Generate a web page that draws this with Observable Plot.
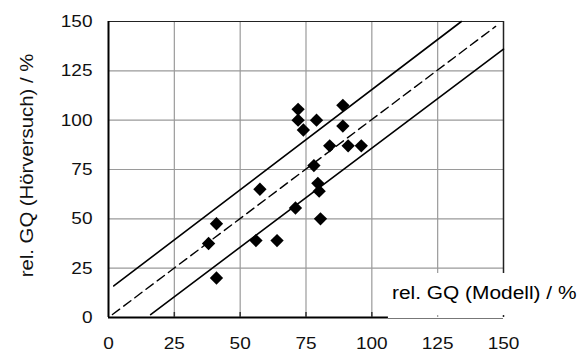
<!DOCTYPE html>
<html>
<head>
<meta charset="utf-8">
<script src="https://cdn.jsdelivr.net/npm/d3@7"></script>
<script src="https://cdn.jsdelivr.net/npm/@observablehq/plot@0.6"></script>
<style>
  html, body { margin: 0; padding: 0; background: #fff; }
  #wrap { position: relative; width: 580px; height: 352px; font-family: "Liberation Sans", Arial, sans-serif; }
  #wrap svg text { font-family: "Liberation Sans", Arial, sans-serif; }
  #xlabel { position: absolute; left: 388px; top: 273px; width: 192px; height: 42px; background: #fff; }
  #xlabel span { position: absolute; left: 4px; top: 9px; font-size: 18px; line-height: 22px; white-space: nowrap; color: #000; transform: scaleX(1.16); transform-origin: left center; }
</style>
</head>
<body>
<div id="wrap"></div>
<script>
// Data: rel. GQ (Modell) vs rel. GQ (Hörversuch), in %
const modell =    [72, 72, 74, 79, 89, 89, 84, 91, 96, 78, 79.5, 80, 57.5, 71, 80.5, 41, 38, 56, 64, 41];
const hoerversuch = [105.5, 100, 95, 100, 107.5, 97, 87, 87, 87, 77, 68, 64, 65, 55.5, 50, 47.5, 37.5, 39, 39, 20];

// Reference lines
const diagX = [1.5, 147];
const diagY = [1.5, 147.5];
const upperX = [2, 134];
const upperY = [16, 150];
const lowerX = [16, 150];
const lowerY = [1.5, 136];

// Ticks
const xTicks = [0, 25, 50, 75, 100, 125, 150];
const yTicks = [0, 25, 50, 75, 100, 125, 150];
const innerTicks = [25, 50, 75, 100];
const axisBreakX = 106.3;

const xLabel = "rel. GQ (Modell) / %";
const yLabel = "rel. GQ (Hörversuch) / %";

const FONT = "'Liberation Sans', Arial, sans-serif";
const points = modell.map((m, i) => ({x: m, y: hoerversuch[i]}));
const line = (xs, ys) => xs.map((x, i) => ({x, y: ys[i]}));

const chart = Plot.plot({
  width: 580,
  height: 352,
  marginLeft: 108,
  marginRight: 77,
  marginTop: 21,
  marginBottom: 35,
  style: {fontFamily: FONT, background: "#fff", color: "#000"},
  x: {domain: [0, 150], axis: null},
  y: {domain: [0, 150], axis: null},
  marks: [
    Plot.gridX(xTicks.slice(1, -1), {stroke: "#9a9a9a", strokeOpacity: 1, strokeWidth: 1.2}),
    Plot.gridY(yTicks.slice(1, -1), {stroke: "#9a9a9a", strokeOpacity: 1, strokeWidth: 1.2}),
    Plot.ruleY([150], {stroke: "#222", strokeWidth: 1.2}),
    Plot.ruleX([150], {stroke: "#222", strokeWidth: 1.5}),
    Plot.ruleX([0], {stroke: "#000", strokeWidth: 2}),
    Plot.ruleY([0], {x1: 0, x2: axisBreakX, stroke: "#000", strokeWidth: 2}),
    Plot.ruleY([0], {x1: axisBreakX, x2: 150, stroke: "#777", strokeWidth: 1, dy: 1}),
    Plot.axisX({ticks: innerTicks, tickSize: 5, dy: -5, text: null, label: null, stroke: "#333", strokeWidth: 1.5, anchor: "bottom"}),
    Plot.line(line(diagX, diagY), {x: "x", y: "y", stroke: "#000", strokeWidth: 1.4, strokeDasharray: "9,5"}),
    Plot.line(line(upperX, upperY), {x: "x", y: "y", stroke: "#000", strokeWidth: 1.6}),
    Plot.line(line(lowerX, lowerY), {x: "x", y: "y", stroke: "#000", strokeWidth: 1.6}),
    Plot.dot(points, {x: "x", y: "y", symbol: "diamond2", r: 6, fill: "#000", stroke: "none"}),
    Plot.text(xTicks, {x: d => d, y: 0, dy: 26, text: d => String(d), fontSize: 17, fontFamily: FONT, fill: "#111", textAnchor: "middle", lineAnchor: "middle", className: "tk"}),
    Plot.text(yTicks, {x: 0, y: d => d, dx: -16, text: d => String(d), fontSize: 17, fontFamily: FONT, fill: "#111", textAnchor: "end", lineAnchor: "middle", className: "tk"}),
    Plot.text([yLabel], {frameAnchor: "left", dx: -81, dy: -4, rotate: -90, text: d => d, fontSize: 18, fontFamily: FONT, fill: "#111", textAnchor: "middle", lineAnchor: "middle", className: "tl"})
  ]
});

chart.querySelectorAll(".tk text").forEach(t => {
  t.setAttribute("font-family", FONT);
  const tr = t.getAttribute("transform") || "";
  t.setAttribute("transform", tr + " scale(1.12,1)");
});
chart.querySelectorAll(".tl text").forEach(t => {
  t.setAttribute("font-family", FONT);
  const tr = t.getAttribute("transform") || "";
  t.setAttribute("transform", tr + " scale(1.13,1)");
});

const wrap = document.getElementById("wrap");
wrap.appendChild(chart);
const lab = document.createElement("div");
lab.id = "xlabel";
const sp = document.createElement("span");
sp.textContent = xLabel;
lab.appendChild(sp);
wrap.appendChild(lab);
</script>
</body>
</html>
